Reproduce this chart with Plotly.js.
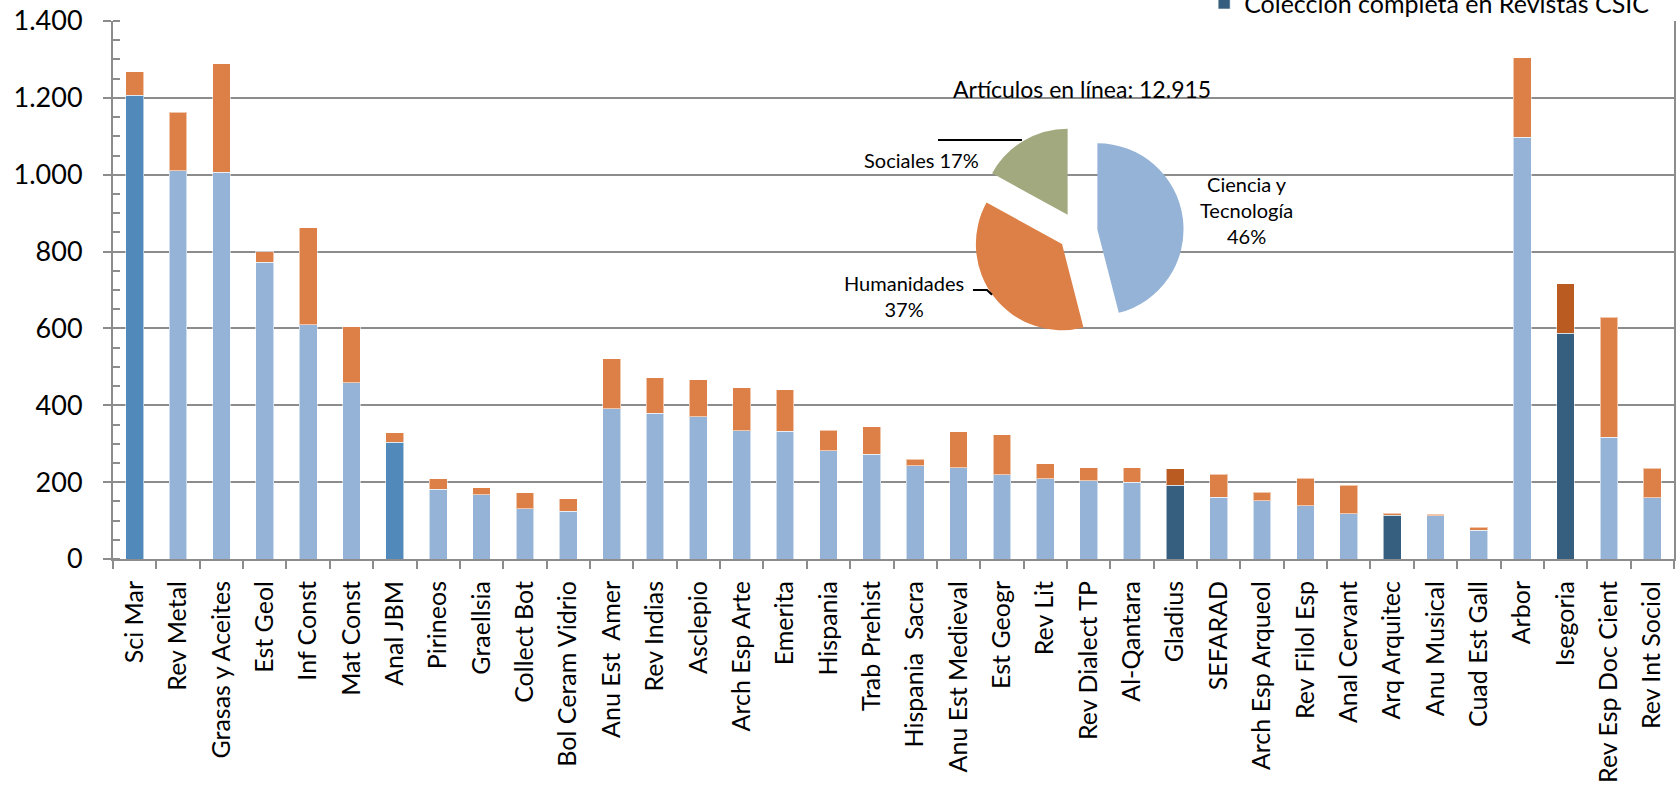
<!DOCTYPE html>
<html>
<head>
<meta charset="utf-8">
<script src="https://cdn.plot.ly/plotly-3.0.1.min.js"></script>
<style>
  html, body { margin: 0; padding: 0; background: #fff; }
  #chart { width: 1680px; height: 787px; }
</style>
</head>
<body>
<div id="chart"></div>
<script>
// journals, in the order of the chart
const journals = ['Sci Mar', 'Rev Metal', 'Grasas y Aceites', 'Est Geol', 'Inf Const', 'Mat Const',
  'Anal JBM', 'Pirineos', 'Graellsia', 'Collect Bot', 'Bol Ceram Vidrio', 'Anu Est  Amer',
  'Rev Indias', 'Asclepio', 'Arch Esp Arte', 'Emerita', 'Hispania', 'Trab Prehist',
  'Hispania  Sacra', 'Anu Est Medieval', 'Est Geogr', 'Rev Lit', 'Rev Dialect TP', 'Al-Qantara',
  'Gladius', 'SEFARAD', 'Arch Esp Arqueol', 'Rev Filol Esp', 'Anal Cervant', 'Arq Arquitec',
  'Anu Musical', 'Cuad Est Gall', 'Arbor', 'Isegoria', 'Rev Esp Doc Cient', 'Rev Int Sociol'];

// articles online (lower part of each bar)
const online = [1207, 1010, 1007, 772, 609, 459, 304, 182, 167, 131, 124, 391,
  379, 370, 334, 332, 282, 273, 243, 238, 219, 209, 204, 200,
  192, 161, 152, 138, 118, 114, 112, 75, 1098, 587, 317, 159];

// remaining articles (upper part of each bar)
const rest = [61, 152, 282, 27, 253, 146, 25, 27, 18, 41, 33, 130,
  93, 97, 112, 109, 53, 71, 17, 93, 104, 39, 34, 38,
  43, 59, 22, 72, 74, 5, 4, 8, 207, 129, 312, 77];

const complete = ['Gladius', 'Arq Arquitec', 'Isegoria'];
const highlight = ['Sci Mar', 'Anal JBM'];

// pie inset
const pieLabels = ['Ciencia y<br>Tecnología', 'Humanidades', 'Sociales'];
const piePct = [46, 37, 17];
const pieTitle = 'Artículos en línea: 12.915';
const legendName = 'Colección completa en Revistas CSIC';

const LIGHT = '#95b3d7', MID = '#5189bb', DARK = '#365e7e';
const ORANGE = '#dd8047', DORANGE = '#ba5b22', GREEN = '#a3a97f';
const GRID = '#8c8c8c';
const FONT = 'Lato, "Open Sans", sans-serif';

const isComplete = journals.map(j => complete.includes(j));

const edge = {color: 'rgba(255,255,255,0.55)', width: 1};

const data = [
  {
    x: journals,
    y: online.map((v, i) => isComplete[i] ? null : v),
    type: 'bar',
    marker: {color: journals.map(j => highlight.includes(j) ? MID : LIGHT), line: edge},
    showlegend: false
  },
  {
    x: journals,
    y: online.map((v, i) => isComplete[i] ? v : null),
    type: 'bar',
    name: legendName,
    marker: {color: DARK, line: edge}
  },
  {
    x: journals,
    y: rest,
    type: 'bar',
    marker: {color: journals.map((j, i) => isComplete[i] && j !== 'Arq Arquitec' ? DORANGE : ORANGE), line: edge},
    showlegend: false
  },
  {
    type: 'pie',
    labels: pieLabels,
    values: piePct,
    sort: false,
    direction: 'clockwise',
    rotation: 0,
    pull: [0.23, 0.23, 0.23],
    marker: {colors: [LIGHT, ORANGE, GREEN], line: {width: 0}},
    textinfo: 'none',
    hoverinfo: 'label+percent',
    showlegend: false,
    domain: {x: [0.550, 0.686], y: [0.411, 0.805]}
  }
];

// pie labels, written from the pie arrays
const pieAnn = [
  {x: 0.726, y: 0.649, text: pieLabels[0] + '<br>' + piePct[0] + '%'},
  {x: 0.507, y: 0.489, text: pieLabels[1] + '<br>' + piePct[1] + '%'},
  {x: 0.518, y: 0.742, text: pieLabels[2] + ' ' + piePct[2] + '%'}
].map(a => Object.assign(a, {
  xref: 'paper', yref: 'paper', xanchor: 'center', yanchor: 'middle',
  showarrow: false, align: 'center',
  font: {family: FONT, size: 20, color: '#000'}
}));

const layout = {
  width: 1680,
  height: 787,
  margin: {l: 113, r: 6, t: 21, b: 228, autoexpand: false},
  paper_bgcolor: '#fff',
  plot_bgcolor: '#fff',
  barmode: 'stack',
  bargap: 0.59,
  separators: ',.',
  font: {family: FONT, color: '#000'},
  xaxis: {
    type: 'category',
    tickson: 'boundaries',
    ticks: 'outside',
    ticklen: 8,
    tickwidth: 2,
    tickcolor: GRID,
    tickangle: -90,
    ticklabelstandoff: 10,
    tickfont: {family: FONT, size: 25, color: '#000'},
    showline: true,
    linecolor: GRID,
    linewidth: 2,
    showgrid: false,
    zeroline: false
  },
  yaxis: {
    range: [0, 1400],
    dtick: 200,
    separatethousands: true,
    ticks: 'outside',
    ticklen: 8,
    tickwidth: 2,
    tickcolor: GRID,
    ticklabelstandoff: 15,
    tickfont: {family: FONT, size: 27, color: '#000'},
    showline: true,
    mirror: true,
    linecolor: GRID,
    linewidth: 2,
    gridcolor: GRID,
    gridwidth: 2,
    zeroline: false,
    minor: {dtick: 50, ticks: 'inside', ticklen: 7, tickwidth: 2, tickcolor: GRID, showgrid: false}
  },
  legend: {
    x: 0.699, xanchor: 'left',
    y: 1.033, yanchor: 'middle',
    bgcolor: 'rgba(0,0,0,0)',
    font: {family: FONT, size: 25, color: '#000'}
  },
  annotations: [
    {
      xref: 'paper', yref: 'paper', x: 0.621, y: 0.874, xanchor: 'center', yanchor: 'middle',
      showarrow: false, text: pieTitle, font: {family: FONT, size: 23, color: '#000'}
    }
  ].concat(pieAnn),
  shapes: [
    {type: 'line', xref: 'paper', yref: 'paper', x0: 0.5285, x1: 0.5823, y0: 0.779, y1: 0.779,
      line: {color: '#000', width: 2}},
    {type: 'path', xref: 'paper', yref: 'paper', path: 'M0.5509,0.500 L0.5599,0.500 L0.5631,0.491',
      line: {color: '#000', width: 2}}
  ]
};

Plotly.newPlot('chart', data, layout, {displayModeBar: false, staticPlot: true});
</script>
</body>
</html>
